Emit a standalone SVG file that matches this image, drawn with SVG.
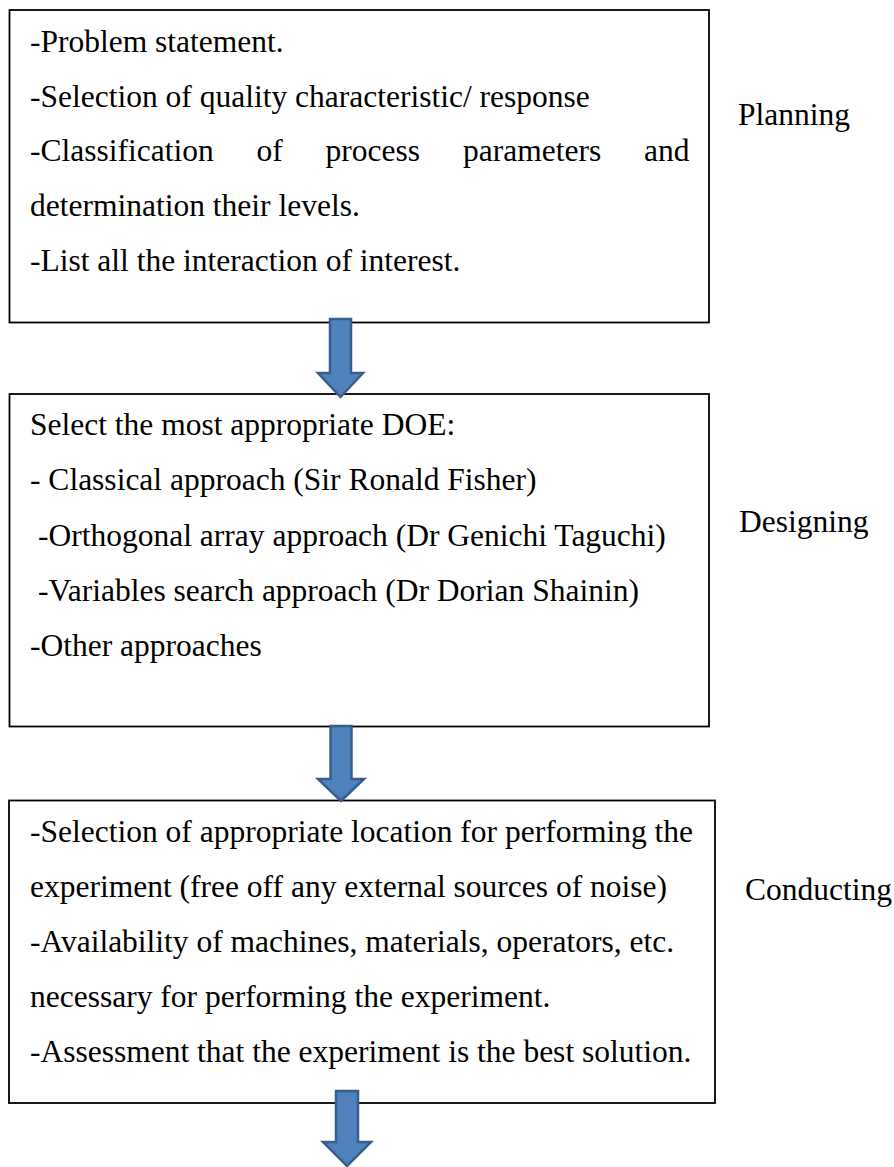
<svg xmlns="http://www.w3.org/2000/svg" width="894" height="1167" viewBox="0 0 894 1167">
<style>
.box{fill:#ffffff;stroke:#000000;stroke-width:1.8}
.t{font-family:"Liberation Serif","Times New Roman",serif;font-size:31.5px;fill:#000000}
.arrow{fill:#4F81BD;stroke:#385D8A;stroke-width:2.5;stroke-linejoin:miter}
</style>
<rect x="0" y="0" width="894" height="1167" fill="#ffffff"/>
<g id="planning">
<rect class="box" x="9.5" y="10" width="699.5" height="312.5"/>
<text class="t" x="30" y="52">-Problem statement.</text>
<text class="t" x="30" y="106.5">-Selection of quality characteristic/ response</text>
<text class="t" y="161"><tspan x="30">-Classification</tspan><tspan x="256.5">of</tspan><tspan x="325.5">process</tspan><tspan x="463">parameters</tspan><tspan x="644">and</tspan></text>
<text class="t" x="30" y="216">determination their levels.</text>
<text class="t" x="30" y="270.5">-List all the interaction of interest.</text>
<text class="t" x="738" y="125">Planning</text>
</g>
<g id="designing">
<rect class="box" x="9.5" y="394" width="699.5" height="332.5"/>
<text class="t" x="30" y="435">Select the most appropriate DOE:</text>
<text class="t" x="30" y="490">- Classical approach (Sir Ronald Fisher)</text>
<text class="t" x="38" y="545.5">-Orthogonal array approach (Dr Genichi Taguchi)</text>
<text class="t" x="38" y="600.5">-Variables search approach (Dr Dorian Shainin)</text>
<text class="t" x="30" y="655.5">-Other approaches</text>
<text class="t" x="739" y="532">Designing</text>
</g>
<g id="conducting">
<rect class="box" x="9" y="800.5" width="706" height="302.5"/>
<text class="t" x="30" y="842">-Selection of appropriate location for performing the</text>
<text class="t" x="30" y="897">experiment (free off any external sources of noise)</text>
<text class="t" x="30" y="952">-Availability of machines, materials, operators, etc.</text>
<text class="t" x="30" y="1007">necessary for performing the experiment.</text>
<text class="t" x="30" y="1062">-Assessment that the experiment is the best solution.</text>
<text class="t" x="745" y="900">Conducting</text>
</g>
<g id="connectors">
<path class="arrow" d="M330,319 L351,319 L351,373 L363,373 L340.5,397 L318,373 L330,373 Z"/>
<path class="arrow" d="M330.5,726 L351.5,726 L351.5,779 L364,779 L341,801 L318,779 L330.5,779 Z"/>
<path class="arrow" d="M336,1091 L358,1091 L358,1142 L371,1142 L347,1166 L323,1142 L336,1142 Z"/>
</g>
</svg>
